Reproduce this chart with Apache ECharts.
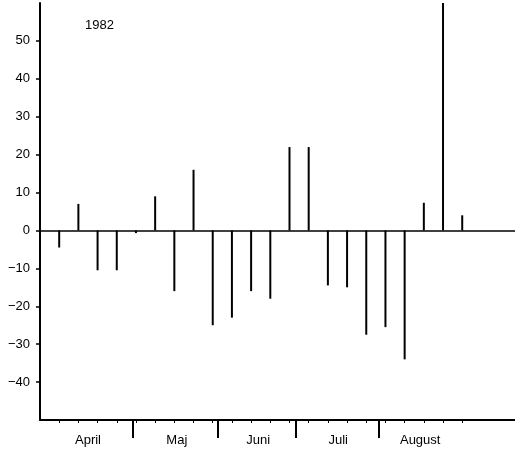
<!DOCTYPE html>
<html>
<head>
<meta charset="utf-8">
<script src="https://cdn.jsdelivr.net/npm/echarts@6/dist/echarts.min.js"></script>
<style>html,body{margin:0;padding:0;background:#fff}#c{width:515px;height:453px}</style>
</head>
<body>
<div id="c"></div>
<script>
// Week positions (index) and values
var weeks = [1,2,3,4,5,6,7,8,9,10,11,12,13,14,15,16,17,18,19,20,21,22];
var values = [-4.5,7,-10.5,-10.5,-0.7,9,-16,16,-25,-23,-16,-18,22,22,-14.5,-15,-27.5,-25.5,-34,7.3,60,4];
var monthNames = ['April','Maj','Juni','Juli','August'];
var monthCenters = [2.5,7.13,11.37,15.54,19.81];
var monthBounds = [4.83,9.24,13.35,17.67];
var yTicks = [-40,-30,-20,-10,0,10,20,30,40,50];
var yearLabel = '1982';

var font = 'Liberation Sans, Arial, Helvetica, sans-serif';
var chart = echarts.init(document.getElementById('c'), null, {renderer:'canvas'});
chart.setOption({
  animation:false,
  title:{text:yearLabel,left:80,top:14,textStyle:{fontSize:13,fontWeight:'normal',color:'#000',fontFamily:font}},
  grid:{left:40,right:0,top:3,bottom:33,containLabel:false},
  xAxis:[{
    type:'value',min:0,max:24.75,position:'bottom',
    axisLine:{show:true,onZero:false,lineStyle:{color:'#000',width:2}},
    axisTick:{show:true,customValues:weeks,length:3,lineStyle:{color:'#000',width:1}},
    axisLabel:{show:false},splitLine:{show:false}
  },{
    type:'value',min:0,max:24.75,position:'bottom',
    axisLine:{show:false,onZero:false},
    axisTick:{show:true,customValues:monthBounds,length:18,lineStyle:{color:'#000',width:2}},
    axisLabel:{show:true,customValues:monthCenters,margin:14,fontSize:13,color:'#000',fontFamily:font,
      formatter:function(v){var i=monthCenters.indexOf(v);return i>=0?monthNames[i]:'';}},
    splitLine:{show:false}
  }],
  yAxis:{
    type:'value',min:-50,max:60,interval:10,
    axisLine:{show:true,onZero:false,lineStyle:{color:'#000',width:2}},
    axisTick:{show:true,customValues:yTicks,length:4,lineStyle:{color:'#000',width:1.5}},
    axisLabel:{customValues:yTicks,margin:10,fontSize:13,color:'#000',fontFamily:font,
      formatter:function(v){return String(v).replace('-','\u2212');}},
    splitLine:{show:false}
  },
  series:[{
    type:'bar',xAxisIndex:0,barWidth:2,
    itemStyle:{color:'#000'},
    data:weeks.map(function(w,i){return [w,values[i]];}),
    markLine:{silent:true,symbol:'none',label:{show:false},
      lineStyle:{color:'#000',width:1.5,type:'solid'},
      data:[{yAxis:0}]}
  }]
});
</script>
</body>
</html>
